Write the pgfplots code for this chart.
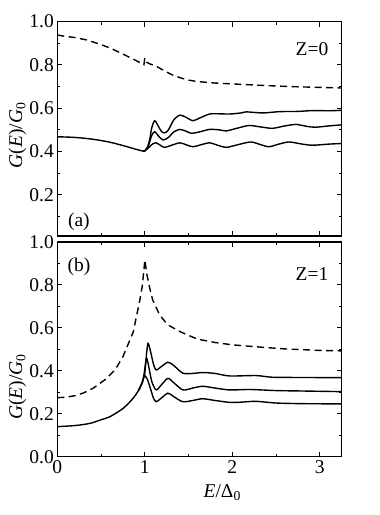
\documentclass[border=0pt]{standalone}
\usepackage{pgfplots}
\pgfplotsset{compat=1.18}
\usepackage{fontspec}
\setmainfont{Liberation Serif}

\pgfplotsset{
  panel/.style={
    width=284.4pt, scale only axis, xmin=0, xmax=3.25,
    axis line style={line width=1.3pt},
    tick align=inside, major tick length=5pt, minor tick length=3pt,
    every tick/.style={black, line width=1pt},
    xtick={0,1,2,3}, minor xtick={0.5,1.5,2.5},
    minor ytick={0.1,0.3,0.5,0.7,0.9},
    xticklabel style={/pgf/number format/assume math mode=true},
    yticklabel style={/pgf/number format/.cd, fixed, fixed zerofill, precision=1, assume math mode=true},
    font=\fontsize{19.5}{23}\selectfont,
    every axis y label/.style={rotate=90, anchor=center},
  },
  sol/.style={black, line width=1.4pt, smooth, tension=0.45},
  dsh/.style={black, line width=1.4pt, dash pattern=on 7pt off 4.5pt},
}

\begin{document}
\begin{tikzpicture}
\useasboundingbox (-57.3pt,-58.3pt) rectangle (322.7pt,456.7pt);

% panel (a), Z=0
\begin{axis}[panel, at={(0pt,220.7pt)}, height=214.5pt, ymin=0.01, ymax=1.0,
  ytick={0.2,0.4,0.6,0.8,1.0}, xticklabels={},
  ylabel={\textit{G}(\textit{E})/\textit{G}\textsubscript{0}},
  ylabel style={at={(axis description cs:-0.14,0.47)}}]
\addplot[dsh] coordinates {(0,0.938)(0.05,0.934)(0.2,0.926)(0.335,0.915)(0.45,0.9)(0.543,0.887)(0.65,0.869)(0.733,0.853)(0.85,0.83)(0.96,0.807)(0.99,0.801)(1.0,0.832)(1.02,0.812)(1.06,0.804)(1.113,0.797)(1.2,0.778)(1.3,0.756)(1.4,0.741)(1.49,0.73)(1.6,0.723)(1.8,0.716)(2.0,0.712)(2.14,0.709)(2.4,0.704)(2.71,0.699)(3.0,0.696)(3.25,0.693)};
\addplot[sol] coordinates {(0,0.468)(0.2,0.465)(0.4,0.457)(0.6,0.443)(0.8,0.422)(0.9,0.41)(0.98,0.402)(1.0,0.403)(1.03,0.42)(1.056,0.455)(1.08,0.51)(1.113,0.542)(1.15,0.52)(1.19,0.493)(1.227,0.486)(1.27,0.5)(1.33,0.545)(1.4,0.568)(1.47,0.558)(1.55,0.542)(1.63,0.555)(1.74,0.573)(1.85,0.574)(1.97,0.573)(2.1,0.578)(2.157,0.583)(2.35,0.578)(2.54,0.584)(2.75,0.585)(2.92,0.589)(3.1,0.588)(3.25,0.59)};
\addplot[sol] coordinates {(0.98,0.402)(1.0,0.403)(1.04,0.425)(1.08,0.475)(1.113,0.491)(1.16,0.47)(1.21,0.453)(1.27,0.465)(1.33,0.49)(1.4,0.502)(1.47,0.494)(1.53,0.484)(1.62,0.49)(1.74,0.502)(1.85,0.5)(1.93,0.495)(2.05,0.507)(2.19,0.52)(2.33,0.513)(2.46,0.507)(2.6,0.518)(2.73,0.525)(2.85,0.516)(2.95,0.512)(3.1,0.518)(3.25,0.523)};
\addplot[sol] coordinates {(0.98,0.402)(1.0,0.403)(1.05,0.42)(1.09,0.435)(1.13,0.44)(1.18,0.428)(1.227,0.419)(1.3,0.428)(1.4,0.44)(1.48,0.43)(1.55,0.422)(1.65,0.432)(1.74,0.44)(1.84,0.428)(1.93,0.419)(2.05,0.43)(2.21,0.444)(2.32,0.432)(2.42,0.422)(2.53,0.434)(2.65,0.444)(2.8,0.434)(2.92,0.429)(3.1,0.434)(3.25,0.437)};
\node at (axis cs:0.247,0.076) {(a)};
\node at (axis cs:2.91,0.873) {Z=0};
\end{axis}

% panel (b), Z=1
\begin{axis}[panel, at={(0pt,0pt)}, height=214.7pt, ymin=0, ymax=1.0,
  ytick={0,0.2,0.4,0.6,0.8,1.0},
  ylabel={\textit{G}(\textit{E})/\textit{G}\textsubscript{0}},
  ylabel style={at={(axis description cs:-0.14,0.325)}},
  xlabel={\textit{E}/Δ\textsubscript{0}},
  xlabel style={at={(axis description cs:0.58,-0.168)}, anchor=center}]
\addplot[dsh] coordinates {(0,0.275)(0.1,0.277)(0.2,0.284)(0.3,0.297)(0.41,0.319)(0.54,0.357)(0.66,0.404)(0.75,0.466)(0.83,0.544)(0.87,0.583)(0.9,0.645)(0.94,0.722)(0.97,0.792)(0.99,0.87)(1.0,0.917)(1.025,0.847)(1.056,0.785)(1.09,0.73)(1.17,0.66)(1.26,0.615)(1.4,0.583)(1.5,0.565)(1.6,0.548)(1.8,0.532)(2.0,0.521)(2.27,0.512)(2.6,0.502)(3.0,0.495)(3.25,0.493)};
\addplot[sol] coordinates {(0,0.14)(0.2,0.145)(0.372,0.155)(0.5,0.172)(0.6,0.186)(0.752,0.225)(0.866,0.272)(0.93,0.31)(0.97,0.345)(0.988,0.37)(1.0,0.378)(1.03,0.36)(1.07,0.31)(1.1,0.272)(1.13,0.256)(1.18,0.27)(1.264,0.296)(1.33,0.28)(1.435,0.256)(1.55,0.262)(1.66,0.27)(1.8,0.262)(1.97,0.253)(2.1,0.254)(2.27,0.258)(2.5,0.25)(2.8,0.247)(3.25,0.246)};
\addplot[sol] coordinates {(0.93,0.31)(0.97,0.345)(0.99,0.38)(1.018,0.458)(1.04,0.43)(1.08,0.35)(1.13,0.311)(1.19,0.335)(1.264,0.365)(1.33,0.345)(1.435,0.311)(1.55,0.32)(1.66,0.328)(1.8,0.32)(1.97,0.311)(2.2,0.313)(2.5,0.308)(2.8,0.306)(3.25,0.303)};
\addplot[sol] coordinates {(0.93,0.31)(0.97,0.345)(1.0,0.39)(1.02,0.48)(1.037,0.528)(1.06,0.5)(1.1,0.43)(1.13,0.404)(1.19,0.42)(1.264,0.44)(1.33,0.425)(1.435,0.389)(1.55,0.388)(1.66,0.392)(1.8,0.388)(1.97,0.376)(2.27,0.378)(2.46,0.37)(2.8,0.369)(3.25,0.368)};
\node at (axis cs:0.247,0.886) {(b)};
\node at (axis cs:2.91,0.849) {Z=1};
\end{axis}
\end{tikzpicture}
\end{document}
